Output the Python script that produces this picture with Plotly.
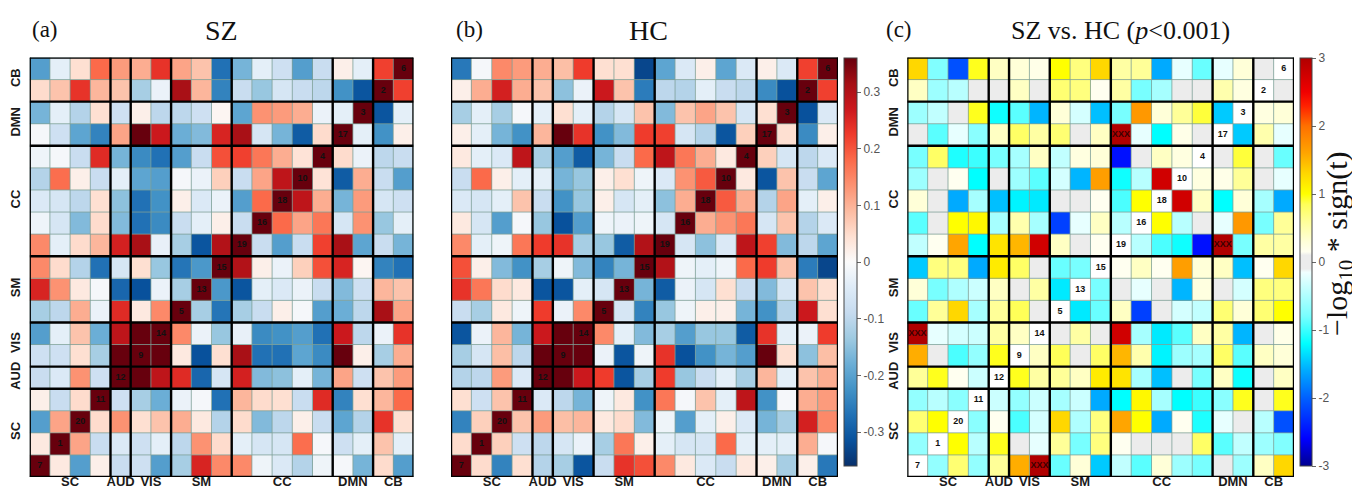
import plotly.graph_objects as go

# ---------------- data ----------------
networks = ["SC", "AUD", "VIS", "SM", "CC", "DMN", "CB"]
network_sizes = [4, 1, 2, 3, 5, 2, 2]
# component order, left-to-right on x (rows top-to-bottom are the reverse)
components = [7, 1, 20, 11, 12, 9, 14, 5, 13, 15, 19, 16, 18, 10, 4, 17, 3, 2, 6]

# symmetric matrices: upper-left triangle of the displayed grid, row by row from the top
sz_tri = [
    [-0.205, -0.035, 0.045, 0.18, 0.125, 0.105, 0.235, 0.115, 0.08, -0.27, -0.17, -0.035, -0.075, -0.205, -0.085, 0.02, -0.035, 0.22],
    [0.05, 0.08, 0.235, 0.095, 0.08, -0.125, -0.025, 0.31, 0.095, -0.245, -0.085, -0.14, -0.06, -0.085, -0.10, -0.225, -0.31],
    [-0.17, -0.035, -0.11, 0.045, -0.075, 0.02, -0.10, -0.10, -0.075, 0.01, -0.195, 0.135, 0.125, 0.105, -0.025, -0.035],
    [-0.01, -0.075, -0.195, -0.245, 0.115, 0.36, 0.27, -0.18, -0.16, 0.255, 0.31, -0.06, -0.17, -0.30, 0.05],
    [-0.02, -0.01, -0.085, 0.245, -0.17, -0.235, -0.27, -0.205, -0.085, 0.205, 0.22, 0.165, 0.105, 0.04],
    [-0.11, 0.175, 0.02, -0.085, -0.035, -0.195, -0.205, -0.01, -0.025, 0.065, -0.085, 0.115, 0.285],
    [-0.05, -0.06, -0.10, 0.045, -0.15, -0.27, -0.225, 0.02, -0.05, -0.025, -0.205, 0.18],
    [-0.02, -0.06, -0.16, 0.05, -0.16, -0.27, -0.235, -0.085, -0.035, 0.02, -0.085],
    [0.145, -0.035, 0.05, 0.095, 0.26, 0.31, -0.03, -0.125, -0.31, 0.30],
    [0.145, 0.05, -0.11, -0.27, -0.06, 0.045, -0.14, -0.265, -0.215],
    [0.255, 0.135, 0.03, -0.01, -0.285, -0.315, -0.025, -0.125],
    [-0.125, -0.10, 0.105, -0.025, 0.245, 0.03, 0.145],
    [-0.205, -0.035, 0.08, -0.18, 0.285, 0.36],
    [-0.075, -0.075, 0.045, -0.125, 0.36],
    [-0.085, -0.05, 0.135, -0.075],
    [0.02, -0.085, 0.05],
    [-0.205, 0.115],
    [0.03],
]

hc_tri = [
    [-0.26, -0.01, 0.145, 0.125, 0.105, 0.085, 0.225, 0.045, 0.045, -0.33, -0.195, -0.05, 0.02, -0.195, -0.05, 0.02, -0.05, 0.22],
    [0.02, 0.105, 0.26, 0.105, 0.08, -0.15, -0.025, 0.27, 0.08, -0.255, -0.10, -0.11, -0.035, -0.085, -0.10, -0.235, -0.315],
    [-0.125, -0.035, -0.125, -0.01, -0.035, 0.045, -0.035, -0.11, -0.06, 0.08, -0.16, 0.08, 0.115, 0.08, -0.06, 0.045],
    [0.02, -0.035, -0.17, -0.225, 0.095, 0.36, 0.235, -0.225, -0.16, 0.225, 0.22, -0.06, -0.11, -0.31, 0.065],
    [0.03, -0.035, -0.05, 0.285, -0.125, -0.205, -0.30, -0.17, -0.085, 0.18, 0.285, 0.165, 0.105, 0.03],
    [-0.085, 0.18, 0.02, -0.035, -0.035, -0.17, -0.14, 0.02, 0.045, -0.02, -0.05, 0.135, 0.195],
    [-0.05, -0.06, -0.035, 0.08, -0.085, -0.225, -0.14, 0.02, -0.06, -0.035, -0.15, 0.105],
    [0.03, -0.06, -0.205, -0.01, -0.14, -0.315, -0.205, -0.02, -0.025, -0.02, -0.06],
    [0.145, -0.035, -0.02, 0.165, 0.225, 0.235, -0.125, -0.14, -0.30, 0.30],
    [0.205, 0.02, -0.16, -0.225, -0.125, -0.02, -0.16, -0.245, -0.17],
    [0.235, 0.165, 0.05, 0.03, -0.31, -0.31, -0.035, -0.06],
    [-0.085, -0.125, 0.03, -0.02, 0.225, -0.025, 0.145],
    [-0.31, -0.025, 0.095, -0.17, 0.27, 0.36],
    [-0.125, -0.06, 0.085, -0.10, 0.36],
    [-0.11, -0.10, 0.125, -0.05],
    [0.045, -0.075, 0.08],
    [-0.245, 0.065],
    [0.05],
]

diff_tri = [
    [1.3, -0.75, -2.1, 0.95, 0.4, 0.3, 0.2, 1.0, 0.7, 1.3, 0.55, 0.6, -1.6, -0.2, -0.85, -0.2, 0.3, 0.0],
    [0.4, -0.6, -0.45, 0.0, 0.0, 0.4, 0.0, 0.75, 0.7, 0.15, 0.55, -0.8, -0.55, 0.0, 0.0, 0.5, 0.25],
    [-0.6, -0.4, 0.0, 0.95, -1.15, -0.9, -1.55, 0.3, -0.3, -1.5, -0.8, 1.7, 0.3, 0.6, 0.9, -1.45],
    [0.0, -0.9, -0.2, -0.7, 0.4, 0.8, 0.55, 0.75, 0.0, 0.4, 3.0, -0.2, -1.2, 0.2, 0.0],
    [-0.8, 0.8, -1.1, -1.0, -0.8, -0.55, 0.4, -0.4, 0.25, 0.3, -2.5, 0.0, 0.4, 0.25],
    [-0.6, 0.0, 0.15, -1.2, 0.0, -0.6, -0.9, -0.3, -1.55, 1.65, -1.15, -0.45, 2.75],
    [0.3, 0.0, -1.6, -0.55, -1.5, -1.25, -1.3, 0.0, 0.0, 0.15, -0.95, 1.0],
    [-0.9, 0.0, 1.0, 1.05, -0.55, 0.5, -0.55, -2.2, -0.2, 0.4, -0.45],
    [-0.4, 0.15, 1.6, -1.2, 1.2, 1.5, 2.75, 0.4, 0.0, 0.15],
    [-1.45, 0.7, 0.7, -1.6, 1.15, 0.8, 0.0, -0.85, -0.8],
    [0.3, -0.8, -0.5, -0.35, 0.4, 0.0, 0.55, -1.3],
    [-0.85, 0.6, 1.3, -0.55, 0.6, 0.85, 0.0],
    [3.0, -0.2, -0.3, -0.35, 0.55, 0.4],
    [1.55, 0.0, -0.95, -0.65, 0.95],
    [0.6, 0.95, 0.15, -0.35],
    [-0.65, -0.45, -0.7],
    [0.75, 1.0],
    [-0.65],
]

corr_ticks = [-0.3, -0.2, -0.1, 0, 0.1, 0.2, 0.3]
diff_ticks = [-3, -2, -1, 0, 1, 2, 3]

# ---------------- helpers ----------------
N = len(components)


def full_grid(tri, diag_value):
    grid = []
    for r in range(N):
        row = []
        for c in range(N):
            if r + c < N - 1:
                row.append(tri[r][c])
            elif r + c == N - 1:
                row.append(diag_value)
            else:
                row.append(tri[N - 1 - c][N - 1 - r])
        grid.append(row)
    return grid


col_bounds = [0]
for s in network_sizes:
    col_bounds.append(col_bounds[-1] + s)
col_centers = [(col_bounds[i] + col_bounds[i + 1] - 1) / 2 for i in range(len(networks))]
row_centers = [N - 1 - v for v in col_centers]
row_bounds = [N - b for b in col_bounds]

blues = ["#08306b", "#08519c", "#2171b5", "#4292c6", "#6baed6", "#9ecae1", "#c6dbef", "#deebf7"]
reds = ["#fee0d2", "#fcbba1", "#fc9272", "#fb6a4a", "#ef3b2c", "#cb181d", "#a50f15", "#67000d"]
corr_colors = blues + ["#fbfbfb"] + reds
corr_scale = [[i / 16, col] for i, col in enumerate(corr_colors)]

diff_stops = [(-3.0, "#00008f"), (-2.6, "#0000ff"), (-2.0, "#0060ff"), (-1.6, "#00aaff"),
              (-1.2, "#00ffff"), (-0.8, "#78ffff"), (-0.45, "#b8ffff"), (-0.15, "#f0ffff"),
              (-0.1, "#ececec"), (0.1, "#ececec"), (0.15, "#fffff0"), (0.3, "#ffffd8"),
              (0.6, "#ffff98"), (0.85, "#ffff58"), (1.0, "#ffff00"), (1.3, "#ffd700"),
              (1.6, "#ffa500"), (2.0, "#ff7000"), (2.3, "#ff2000"), (2.5, "#f00000"),
              (3.0, "#b00000")]
diff_scale = [[(v + 3) / 6, col] for v, col in diff_stops]

W, H = 1360, 491
top_px, bot_px = 49.5, 469.0
panels_px = [(21.7, 405.5), (443.0, 830.0), (899.3, 1286.0)]
ydom = [1 - bot_px / H, 1 - top_px / H]

fig = go.Figure()

grids = [full_grid(sz_tri, 1.0), full_grid(hc_tri, 1.0), full_grid(diff_tri, None)]
idx = list(range(N))
font_tick = dict(family="Liberation Sans", size=13, color="#1a1a1a", weight="bold")

for p, grid in enumerate(grids):
    xa = "x" if p == 0 else f"x{p + 1}"
    ya = "y" if p == 0 else f"y{p + 1}"
    cax = "coloraxis" if p < 2 else "coloraxis2"
    fig.add_trace(go.Heatmap(z=grid, x=idx, y=idx, coloraxis=cax, xaxis=xa, yaxis=ya,
                             hoverinfo="skip"))
    # thin cell grid
    gx, gy = [], []
    for k in range(N + 1):
        gx += [k - 0.5, k - 0.5, None, -0.5, N - 0.5, None]
        gy += [-0.5, N - 0.5, None, k - 0.5, k - 0.5, None]
    fig.add_trace(go.Scatter(x=gx, y=gy, mode="lines", line=dict(color="#7d9f97", width=0.8),
                             xaxis=xa, yaxis=ya, hoverinfo="skip", showlegend=False, cliponaxis=False))
    # thick block lines
    tx, ty = [], []
    for b in col_bounds:
        tx += [b - 0.5, b - 0.5, None]
        ty += [-0.5, N - 0.5, None]
    for b in row_bounds:
        tx += [-0.5, N - 0.5, None]
        ty += [b - 0.5, b - 0.5, None]
    fig.add_trace(go.Scatter(x=tx, y=ty, mode="lines", line=dict(color="#000000", width=2.4),
                             xaxis=xa, yaxis=ya, hoverinfo="skip", showlegend=False, cliponaxis=False))
    # diagonal component labels
    fig.add_trace(go.Scatter(x=[c for c in idx], y=[N - 1 - c for c in idx],
                             text=[str(comp) for comp in components], mode="text",
                             textfont=dict(family="Liberation Sans", size=9, color="#111111", weight="bold"),
                             xaxis=xa, yaxis=ya, hoverinfo="skip", showlegend=False))
    if p == 2:
        sx, sy = [], []
        for r in range(N):
            for c in range(N):
                v = grid[r][c]
                if v is not None and abs(v) >= 3:
                    sx.append(c)
                    sy.append(r)
        fig.add_trace(go.Scatter(x=sx, y=sy, text=["XXX"] * len(sx), mode="text",
                                 textfont=dict(family="Liberation Sans", size=9, color="#3a0000", weight="bold"),
                                 xaxis=xa, yaxis=ya, hoverinfo="skip", showlegend=False))

    x0, x1 = panels_px[p]
    xkey = "xaxis" if p == 0 else f"xaxis{p + 1}"
    ykey = "yaxis" if p == 0 else f"yaxis{p + 1}"
    fig.update_layout(**{
        xkey: dict(domain=[x0 / W, x1 / W], range=[-0.5, N - 0.5], showgrid=False, zeroline=False,
                   tickmode="array", tickvals=col_centers, ticktext=networks, ticks="",
                   tickfont=font_tick, anchor=ya, fixedrange=True, ticklabelstandoff=-5),
        ykey: dict(domain=ydom, range=[N - 0.5, -0.5], showgrid=False, zeroline=False,
                   tickmode="array", tickvals=row_centers, ticktext=networks, ticks="",
                   tickangle=-90, tickfont=font_tick, anchor=xa, showticklabels=(p != 1),
                   fixedrange=True, ticklabelstandoff=6),
    })

tick_font = dict(family="Liberation Sans", size=12, color="#555555")
fig.update_layout(
    width=W, height=H, margin=dict(l=0, r=0, t=0, b=0),
    paper_bgcolor="white", plot_bgcolor="white", showlegend=False,
    coloraxis=dict(colorscale=corr_scale, cmin=-0.36, cmax=0.36,
                   colorbar=dict(x=836 / W, xanchor="left", xpad=0, ypad=0, y=1 - 254 / H,
                                 yanchor="middle", len=408 / H, thickness=13,
                                 tickvals=corr_ticks, ticktext=[f"{t:g}" for t in corr_ticks],
                                 ticks="outside", ticklen=4, tickcolor="#666666",
                                 tickfont=tick_font, outlinecolor="#444444", outlinewidth=1)),
    coloraxis2=dict(colorscale=diff_scale, cmin=-3, cmax=3,
                    colorbar=dict(x=1292 / W, xanchor="left", xpad=0, ypad=0, y=1 - 254 / H,
                                  yanchor="middle", len=408 / H, thickness=12,
                                  tickvals=diff_ticks, ticktext=[str(t) for t in diff_ticks],
                                  ticks="outside", ticklen=4, tickcolor="#666666",
                                  tickfont=tick_font, outlinecolor="#444444", outlinewidth=1)),
)

title_font = dict(family="Liberation Serif", size=28, color="#111111")
label_font = dict(family="Liberation Serif", size=23, color="#111111")
annots = [
    dict(text="(a)", x=22 / W, xanchor="left", y=1 - 21 / H, font=label_font),
    dict(text="SZ", x=213 / W, xanchor="center", y=1 - 22 / H, font=title_font),
    dict(text="(b)", x=446 / W, xanchor="left", y=1 - 21 / H, font=label_font),
    dict(text="HC", x=640 / W, xanchor="center", y=1 - 22 / H, font=title_font),
    dict(text="(c)", x=876 / W, xanchor="left", y=1 - 21 / H, font=label_font),
    dict(text="SZ vs. HC (<i>p</i><0.001)", x=1112 / W, xanchor="center", y=1 - 22 / H,
         font=dict(family="Liberation Serif", size=26, color="#111111")),
    dict(text="\u2212log<sub>10</sub> * sign(t)", x=1331 / W, xanchor="center", y=1 - 236 / H,
         textangle=-90, font=dict(family="Liberation Serif", size=30, color="#111111")),
]
for a in annots:
    fig.add_annotation(xref="paper", yref="paper", yanchor="middle", showarrow=False, **a)

fig.write_html("out.html")
